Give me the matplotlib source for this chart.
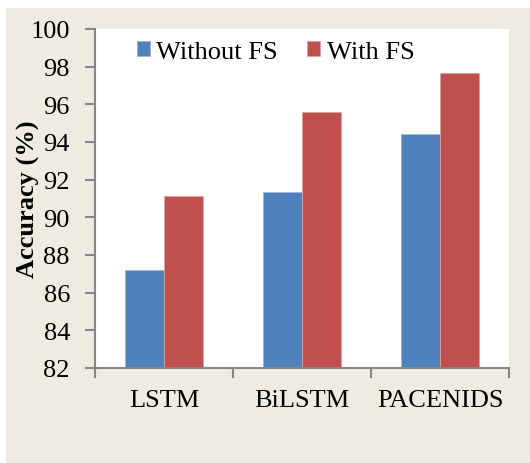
import matplotlib.pyplot as plt
from matplotlib.patches import Rectangle
import numpy as np

models = ["LSTM", "BiLSTM", "PACENIDS"]
without_fs = [87.2, 91.35, 94.45]
with_fs = [91.15, 95.6, 97.65]
yticks = [82, 84, 86, 88, 90, 92, 94, 96, 98, 100]

plt.rcParams['font.family'] = ['Liberation Serif', 'DejaVu Serif']
fs = 19

fig = plt.figure(figsize=(5.3, 4.64), dpi=100)
fig.patch.set_facecolor('white')
# beige chart panel behind the axes
panel = Rectangle((6 / 530, 0), 1 - 6 / 530, 1 - 9 / 464,
                  transform=fig.transFigure, facecolor='#EEECE1',
                  edgecolor='none', zorder=-10)
fig.add_artist(panel)

ax = fig.add_axes([95 / 530, 95 / 464, 414 / 530, 339 / 464])
ax.set_zorder(1)
ax.set_facecolor('white')

x = np.arange(len(models))
w = 0.285
ax.bar(x - w / 2, without_fs, w, color='#4F81BD', edgecolor='#9DB6D8', linewidth=0.6,
       label='Without FS', zorder=2)
ax.bar(x + w / 2, with_fs, w, color='#C0504D', edgecolor='#DDA3A1', linewidth=0.6,
       label='With FS', zorder=2)

ax.set_xlim(-0.5, 2.5)
ax.set_ylim(82, 100)
ax.set_yticks(yticks)
ax.set_xticks([-0.5, 0.5, 1.5, 2.5])
ax.set_xticklabels([])
ax.set_xticks(x, minor=True)
ax.set_xticklabels(models, minor=True, fontsize=fs)
ax.tick_params(axis='x', which='minor', length=0, pad=15)
ax.tick_params(axis='x', which='major', length=7, width=1.5, color='#868686', direction='out')
ax.tick_params(axis='y', length=7, width=1.5, color='#868686', labelsize=fs, pad=11)

for s in ['top', 'right']:
    ax.spines[s].set_visible(False)
for s in ['left', 'bottom']:
    ax.spines[s].set_color('#868686')
    ax.spines[s].set_linewidth(1.5)

ax.set_ylabel('Accuracy (%)', fontsize=fs, fontweight='bold')
ax.yaxis.set_label_coords(-0.133, 0.5)

ax.legend(loc='upper center', bbox_to_anchor=(0.436, 1.035), ncol=2, frameon=False,
          fontsize=fs, handlelength=0.5, handleheight=0.5, handletextpad=0.25,
          columnspacing=1.1)

fig.savefig('out.png', dpi=100)
